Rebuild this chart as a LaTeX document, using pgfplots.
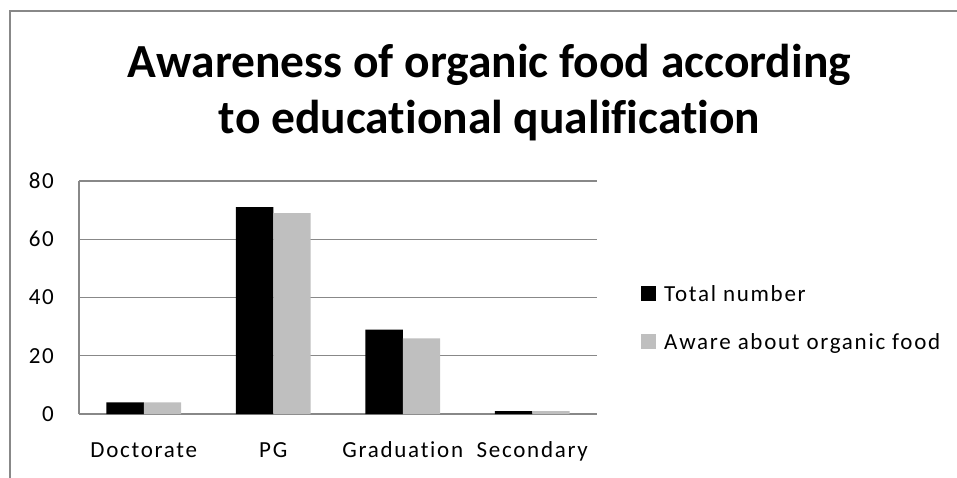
\documentclass[border=0pt]{standalone}
\usepackage{pgfplots}
\pgfplotsset{compat=1.18}
\usepackage{fontspec}
\setmainfont{Carlito}[Ligatures=NoCommon]
\newfontfamily\lab{Carlito}[LetterSpace=7.5, Ligatures=NoCommon]
\definecolor{gridgray}{HTML}{888888}
\definecolor{bargray}{HTML}{BFBFBF}
\begin{document}
\begin{tikzpicture}[x=1pt,y=1pt]
\useasboundingbox (0,0) rectangle (957,-477);
\draw[gridgray, line width=1.3pt] (10,-480) -- (10,-11) -- (960,-11);
\node[font=\fontsize{47.5}{57}\selectfont\bfseries, anchor=base, inner sep=0pt] at (489.5,-77) {Awareness of organic food according};
\node[font=\fontsize{47.5}{57}\selectfont\bfseries, anchor=base, inner sep=0pt] at (489.5,-133) {to educational qualification};
\begin{axis}[
  at={(79pt,-414pt)}, anchor=south west,
  scale only axis, width=518pt, height=233pt,
  ybar=0pt, bar width=37.3pt,
  xmin=-0.5, xmax=3.5, ymin=0, ymax=80,
  xtick=data, xticklabels={Doctorate,PG,Graduation,Secondary},
  ytick={0,20,40,60,80},
  major tick length=0pt,
  axis x line*=bottom, axis y line*=left,
  axis line style={gridgray, line width=1.3pt},
  ymajorgrids, grid style={gridgray, line width=1.3pt},
  /pgf/number format/assume math mode=true,
  xticklabel style={font=\lab\fontsize{23}{27}\selectfont, anchor=base, inner sep=0pt, yshift=-43pt},
  yticklabel style={font=\lab\fontsize{23}{27}\selectfont, anchor=east, inner sep=0pt, xshift=-25pt},
  legend style={at={(axis description cs:1.085,0.5536)}, anchor=north west, draw=none, fill=none, inner sep=0pt,
     row sep=27pt, column sep=8pt,
     nodes={inner sep=0pt, text height=16pt, text depth=5pt, font=\lab\fontsize{23}{27}\selectfont}},
  legend cell align=left,
  legend image code/.code={\fill[#1] (0pt,-5.5pt) rectangle (15pt,9.5pt);},
]
\addplot[fill=black, draw=none] coordinates {(0,4) (1,71) (2,29) (3,1)};
\addplot[fill=bargray, draw=none] coordinates {(0,4) (1,69) (2,26) (3,1)};
\legend{Total number, Aware about organic food}
\end{axis}
\end{tikzpicture}
\end{document}
